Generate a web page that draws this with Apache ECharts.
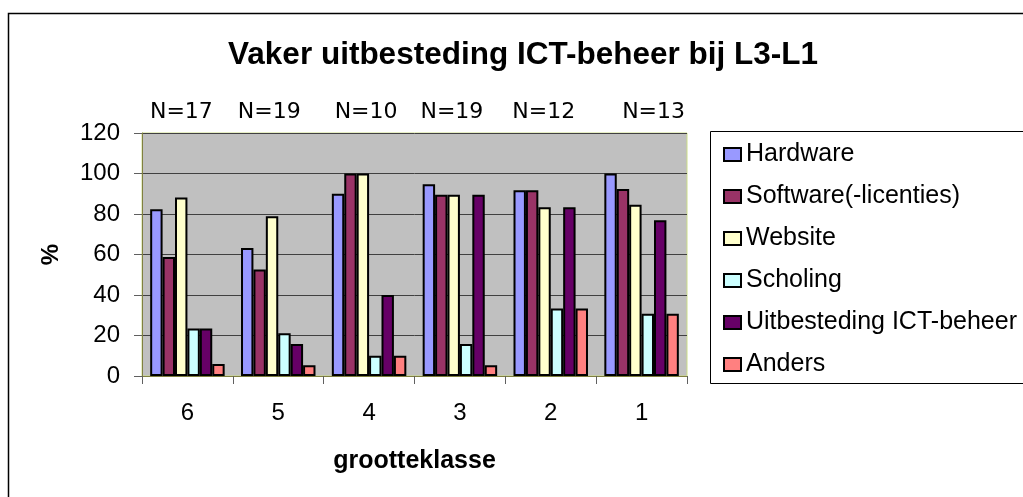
<!DOCTYPE html>
<html>
<head>
<meta charset="utf-8">
<script src="https://cdn.jsdelivr.net/npm/echarts@6/dist/echarts.min.js"></script>
<style>
html,body{margin:0;padding:0;background:#fff;}
#c{width:1023px;height:497px;}
</style>
</head>
<body>
<div id="c"></div>
<script>
const categories = ['6', '5', '4', '3', '2', '1'];
const nLabels = ['N=17', 'N=19', 'N=10', 'N=19', 'N=12', 'N=13'];
const hardware = [82.4, 63.2, 90, 94.7, 91.7, 100];
const software = [58.8, 52.6, 100, 89.5, 91.7, 92.3];
const website = [88.2, 78.9, 100, 89.5, 83.3, 84.6];
const scholing = [23.5, 21.1, 10, 15.8, 33.3, 30.8];
const uitbesteding = [23.5, 15.8, 40, 89.5, 83.3, 76.9];
const anders = [5.9, 5.3, 10, 5.3, 33.3, 30.8];
const seriesNames = ['Hardware', 'Software(-licenties)', 'Website', 'Scholing', 'Uitbesteding ICT-beheer', 'Anders'];
const seriesData = [hardware, software, website, scholing, uitbesteding, anders];
const colors = ['#9999FF', '#993366', '#FFFFCC', '#CCFFFF', '#660066', '#FF8080'];
const yTicks = { min: 0, max: 120, interval: 20 };

// label nudges (px) for the N= text boxes, layout only
const nShift = [-6, -9, -3, -8, -7, 12];

const chart = echarts.init(document.getElementById('c'));
const rich = {};
nShift.forEach((s, i) => {
  rich['p' + i] = {
    fontFamily: 'DejaVu Sans', fontSize: 22, color: '#000',
    padding: [0, s < 0 ? -2 * s : 0, 0, s > 0 ? 2 * s : 0]
  };
});

chart.setOption({
  animation: false,
  backgroundColor: '#fff',
  title: {
    text: 'Vaker uitbesteding ICT-beheer bij L3-L1',
    left: 518, top: 34, textAlign: 'center',
    textStyle: { fontFamily: 'Liberation Sans', fontWeight: 'bold', fontSize: 31.5, color: '#000' }
  },
  legend: {
    orient: 'vertical', left: 718, top: 137,
    itemWidth: 17, itemHeight: 13, itemGap: 17,
    icon: 'rect',
    textStyle: { fontFamily: 'Liberation Sans', fontSize: 25, lineHeight: 25, color: '#000' },
    data: seriesNames
  },
  grid: { left: 142, top: 133, width: 545, height: 243, show: true, backgroundColor: '#C0C0C0', borderColor: '#CCDD88', borderWidth: 1 },
  xAxis: [{
    type: 'category', data: categories, position: 'bottom',
    name: 'grootteklasse', nameLocation: 'middle', nameGap: 73,
    nameTextStyle: { fontFamily: 'Liberation Sans', fontWeight: 'bold', fontSize: 25, color: '#000' },
    axisLine: { lineStyle: { color: '#808040', width: 1 } },
    axisTick: { show: true, length: 8, lineStyle: { color: '#606060' } },
    axisLabel: { margin: 25, fontFamily: 'Liberation Sans', fontSize: 24, color: '#000' }
  }, {
    type: 'category', data: nLabels, position: 'top',
    axisLine: { show: false }, axisTick: { show: false },
    axisLabel: { margin: 10, formatter: (v, i) => '{p' + i + '|' + v + '}', rich: rich }
  }],
  yAxis: {
    type: 'value', min: yTicks.min, max: yTicks.max, interval: yTicks.interval,
    name: '%', nameLocation: 'middle', nameGap: 79, nameRotate: 90,
    nameTextStyle: { fontFamily: 'Liberation Sans', fontWeight: 'bold', fontSize: 24, color: '#000' },
    axisLine: { show: true, lineStyle: { color: '#808040', width: 1 } },
    axisTick: { show: true, length: 8, lineStyle: { color: '#606060' } },
    axisLabel: { margin: 22, fontFamily: 'Liberation Sans', fontSize: 24, color: '#000' },
    splitLine: { show: true, lineStyle: { color: '#404040', width: 1 } }
  },
  series: seriesNames.map((n, i) => ({
    type: 'bar', name: n, data: seriesData[i], xAxisIndex: 0,
    barGap: '0%', barCategoryGap: '18%',
    itemStyle: { color: colors[i], borderColor: '#000', borderWidth: 2 }
  })),
  graphic: [
    { type: 'rect', shape: { x: 8.5, y: 13.5, width: 1100, height: 600 }, style: { fill: null, stroke: '#000', lineWidth: 1.5 }, silent: true, z: -10 },
    { type: 'rect', shape: { x: 710.5, y: 131.5, width: 400, height: 252 }, style: { fill: null, stroke: '#000', lineWidth: 1 }, silent: true, z: -10 }
  ]
});
</script>
</body>
</html>
